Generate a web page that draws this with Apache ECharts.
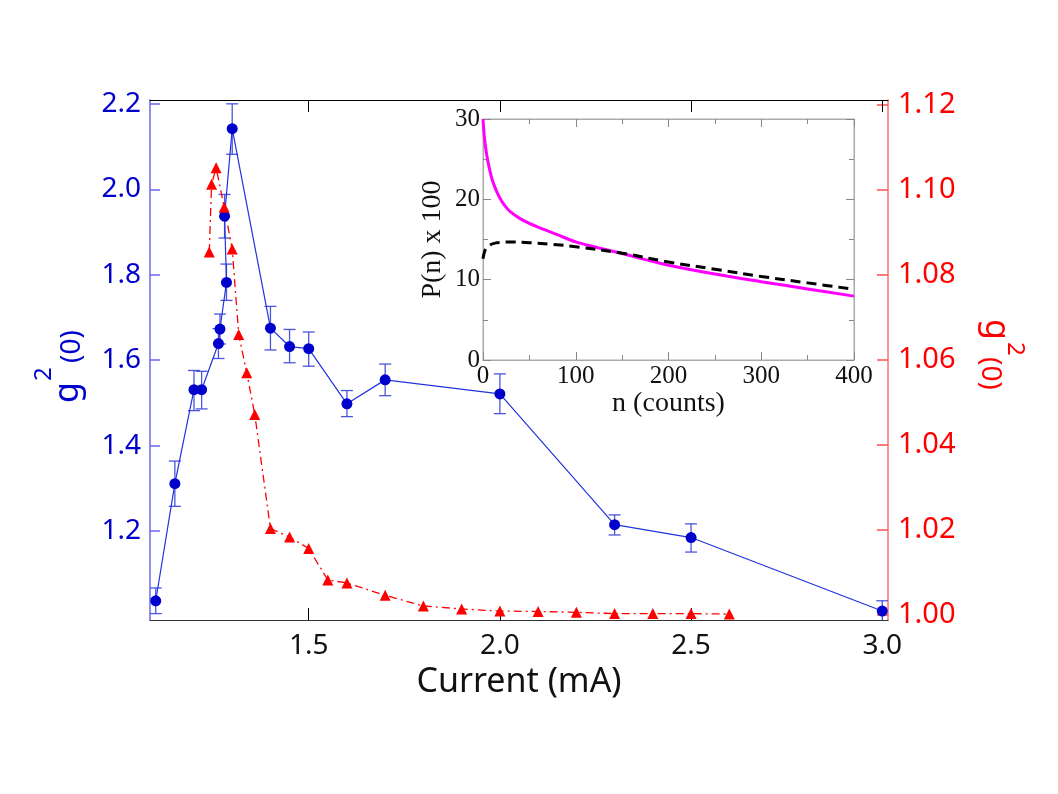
<!DOCTYPE html>
<html>
<head>
<meta charset="utf-8">
<script src="https://cdn.jsdelivr.net/npm/echarts@6/dist/echarts.min.js"></script>
<style>
html,body{margin:0;padding:0;background:#fff;}
#main{width:1058px;height:794px;}
</style>
</head>
<body>
<div id="main"></div>
<script>
// main plot, g2(0) vs current (blue, left axis)
var blueX = [1.10, 1.15, 1.20, 1.22, 1.264, 1.268, 1.285, 1.280, 1.30, 1.40, 1.45, 1.50, 1.60, 1.70, 2.00, 2.30, 2.50, 3.00];
var blueY = [1.037, 1.311, 1.531, 1.531, 1.639, 1.673, 1.782, 1.937, 2.142, 1.675, 1.632, 1.627, 1.498, 1.554, 1.521, 1.215, 1.185, 1.013];
var blueLow = [1.007, 1.258, 1.482, 1.486, 1.604, 1.638, 1.740, 1.886, 2.082, 1.624, 1.594, 1.586, 1.468, 1.517, 1.475, 1.191, 1.151, 0.990];
var blueHigh = [1.067, 1.364, 1.576, 1.574, 1.674, 1.708, 1.825, 1.988, 2.200, 1.726, 1.672, 1.666, 1.529, 1.591, 1.568, 1.238, 1.217, 1.037];

// red triangles, right axis
var redX = [1.24, 1.246, 1.258, 1.279, 1.30, 1.317, 1.338, 1.359, 1.40, 1.45, 1.50, 1.55, 1.60, 1.70, 1.80, 1.90, 2.00, 2.10, 2.20, 2.30, 2.40, 2.50, 2.60];
var redY = [1.0853, 1.1012, 1.1051, 1.0958, 1.0860, 1.0659, 1.0569, 1.0471, 1.0203, 1.0183, 1.0156, 1.0082, 1.0075, 1.0046, 1.0021, 1.0014, 1.0009, 1.0008, 1.0006, 1.0003, 1.0003, 1.0003, 1.0002];

// inset P(n)
var magentaN = [0, 1, 2, 3, 5, 7, 10, 15, 20, 25, 30, 40, 50, 60, 80, 100, 125, 150, 175, 200, 250, 300, 350, 400];
var magentaP = [30.0, 28.3, 27.2, 26.3, 24.9, 23.8, 22.4, 20.9, 19.8, 19.0, 18.4, 17.6, 17.0, 16.5, 15.6, 14.7, 13.95, 13.25, 12.5, 11.8, 10.7, 9.75, 8.85, 7.95];
var dashedN = [0, 1, 3, 8, 15, 20, 30, 50, 75, 100, 150, 200, 250, 300, 350, 400];
var dashedP = [12.6, 13.2, 13.8, 14.35, 14.6, 14.65, 14.7, 14.6, 14.4, 14.1, 13.3, 12.2, 11.3, 10.4, 9.6, 8.8];

var xTicks = [1.5, 2.0, 2.5, 3.0];
var leftTicks = [1.2, 1.4, 1.6, 1.8, 2.0, 2.2];
var rightTicks = [1.00, 1.02, 1.04, 1.06, 1.08, 1.10, 1.12];

var sans = 'Noto Sans';
var serif = 'Liberation Serif';
var blue = '#0000cc';
var red = '#ff0000';

var chart = echarts.init(document.getElementById('main'));

var option = {
  animation: false,
  backgroundColor: '#fff',
  grid: [
    {left: 150, top: 100, width: 738, height: 520},
    {left: 483, top: 119, width: 371, height: 241, show: true, borderColor: '#aaa', borderWidth: 1}
  ],
  xAxis: [
    {
      gridIndex: 0, type: 'value', min: 1.085, max: 3.015, position: 'bottom',
      axisLine: {show: true, onZero: false, lineStyle: {color: '#333', width: 1}},
      axisTick: {show: true, inside: true, length: 12, customValues: xTicks, lineStyle: {color: '#000'}},
      axisLabel: {customValues: xTicks, formatter: function (v) { return v.toFixed(1); },
        fontFamily: sans, fontSize: 28, color: '#111', margin: 12},
      splitLine: {show: false},
      name: 'Current (mA)', nameLocation: 'middle', nameGap: 38,
      nameTextStyle: {fontFamily: sans, fontSize: 34, color: '#111'}
    },
    {
      gridIndex: 0, type: 'value', min: 1.085, max: 3.015, position: 'top',
      axisLine: {show: true, onZero: false, lineStyle: {color: '#000', width: 1}},
      axisTick: {show: true, inside: true, length: 12, customValues: xTicks, lineStyle: {color: '#000'}},
      axisLabel: {show: false},
      splitLine: {show: false}
    },
    {
      gridIndex: 1, type: 'value', min: 0, max: 400, interval: 100, position: 'bottom',
      axisLine: {show: true, onZero: false, lineStyle: {color: '#aaa'}},
      axisTick: {show: true, inside: true, length: 8, lineStyle: {color: '#888'}},
      minorTick: {show: true, splitNumber: 2, length: 5, lineStyle: {color: '#888'}},
      axisLabel: {fontFamily: serif, fontSize: 25, color: '#111', margin: 4},
      splitLine: {show: false},
      name: 'n (counts)', nameLocation: 'middle', nameGap: 28,
      nameTextStyle: {fontFamily: serif, fontSize: 28, color: '#111'}
    },
    {
      gridIndex: 1, type: 'value', min: 0, max: 400, interval: 100, position: 'top',
      axisLine: {show: true, onZero: false, lineStyle: {color: '#aaa'}},
      axisTick: {show: true, inside: true, length: 8, lineStyle: {color: '#888'}},
      minorTick: {show: true, splitNumber: 2, length: 5, lineStyle: {color: '#888'}},
      axisLabel: {show: false},
      splitLine: {show: false}
    }
  ],
  yAxis: [
    {
      gridIndex: 0, type: 'value', min: 0.992, max: 2.209, position: 'left',
      axisLine: {show: true, onZero: false, lineStyle: {color: '#6a6aee', width: 1.5}},
      axisTick: {show: true, inside: true, length: 10, customValues: leftTicks, lineStyle: {color: '#6a6aee', width: 1.5}},
      axisLabel: {customValues: leftTicks, formatter: function (v) { return v.toFixed(1); },
        fontFamily: sans, fontSize: 28, color: blue, margin: 9},
      splitLine: {show: false}
    },
    {
      gridIndex: 0, type: 'value', min: 0.9988, max: 1.121, position: 'right',
      axisLine: {show: true, onZero: false, lineStyle: {color: '#ff7070', width: 1.5}},
      axisTick: {show: true, inside: true, length: 11, customValues: rightTicks, lineStyle: {color: '#ff5050', width: 1.5}},
      axisLabel: {customValues: rightTicks, formatter: function (v) { return v.toFixed(2); },
        fontFamily: sans, fontSize: 29, color: red, margin: 10},
      splitLine: {show: false}
    },
    {
      gridIndex: 1, type: 'value', min: 0, max: 30, interval: 10, position: 'left',
      axisLine: {show: true, onZero: false, lineStyle: {color: '#aaa'}},
      axisTick: {show: true, inside: true, length: 8, lineStyle: {color: '#888'}},
      minorTick: {show: true, splitNumber: 2, length: 5, lineStyle: {color: '#888'}},
      axisLabel: {fontFamily: serif, fontSize: 25, color: '#111', margin: 3},
      splitLine: {show: false},
      name: 'P(n) x 100', nameLocation: 'middle', nameGap: 36,
      nameTextStyle: {fontFamily: serif, fontSize: 28, color: '#111'}
    },
    {
      gridIndex: 1, type: 'value', min: 0, max: 30, interval: 10, position: 'right',
      axisLine: {show: true, onZero: false, lineStyle: {color: '#aaa'}},
      axisTick: {show: true, inside: true, length: 8, lineStyle: {color: '#888'}},
      minorTick: {show: true, splitNumber: 2, length: 5, lineStyle: {color: '#888'}},
      axisLabel: {show: false},
      splitLine: {show: false}
    }
  ],
  series: [
    {
      name: 'errors', type: 'custom', xAxisIndex: 0, yAxisIndex: 0, clip: true,
      data: blueX.map(function (x, i) { return [x, blueLow[i], blueHigh[i]]; }),
      encode: {x: 0, y: [1, 2]},
      renderItem: function (params, api) {
        var x = api.value(0);
        var lo = api.coord([x, api.value(1)]);
        var hi = api.coord([x, api.value(2)]);
        var w = 6;
        var st = {stroke: '#4a55dd', lineWidth: 1.3};
        return {
          type: 'group',
          children: [
            {type: 'line', shape: {x1: lo[0], y1: lo[1], x2: hi[0], y2: hi[1]}, style: st},
            {type: 'line', shape: {x1: hi[0] - w, y1: hi[1], x2: hi[0] + w, y2: hi[1]}, style: st},
            {type: 'line', shape: {x1: lo[0] - w, y1: lo[1], x2: lo[0] + w, y2: lo[1]}, style: st}
          ]
        };
      }
    },
    {
      name: 'g2 blue', type: 'line', xAxisIndex: 0, yAxisIndex: 0,
      data: blueX.map(function (x, i) { return [x, blueY[i]]; }),
      symbol: 'circle', symbolSize: 11,
      itemStyle: {color: blue},
      lineStyle: {color: '#2233dd', width: 1.2}
    },
    {
      name: 'g2 red', type: 'line', xAxisIndex: 0, yAxisIndex: 1,
      data: redX.map(function (x, i) { return [x, redY[i]]; }),
      symbol: 'triangle', symbolSize: 11,
      itemStyle: {color: red},
      lineStyle: {color: red, width: 1.3, type: [8, 4, 2, 4]}
    },
    {
      name: 'magenta', type: 'line', xAxisIndex: 2, yAxisIndex: 2,
      data: magentaN.map(function (n, i) { return [n, magentaP[i]]; }),
      showSymbol: false, symbol: 'none', smooth: 0.35,
      lineStyle: {color: '#ff00ff', width: 3}
    },
    {
      name: 'dashed', type: 'line', xAxisIndex: 2, yAxisIndex: 2,
      data: dashedN.map(function (n, i) { return [n, dashedP[i]]; }),
      showSymbol: false, symbol: 'none', smooth: 0.35,
      lineStyle: {color: '#000', width: 3, type: [10, 6]}
    }
  ],
  graphic: [
    // left axis title g^2(0), reads bottom to top
    {type: 'text', x: 68, y: 403, rotation: Math.PI / 2,
      style: {text: 'g', fontFamily: sans, fontSize: 34, fill: blue, align: 'left', verticalAlign: 'middle'}},
    {type: 'text', x: 44, y: 381, rotation: Math.PI / 2,
      style: {text: '2', fontFamily: sans, fontSize: 24, fill: blue, align: 'left', verticalAlign: 'middle'}},
    {type: 'text', x: 72, y: 363, rotation: Math.PI / 2,
      style: {text: '(0)', fontFamily: sans, fontSize: 28, fill: blue, align: 'left', verticalAlign: 'middle'}},
    // right axis title, reads top to bottom
    {type: 'text', x: 996, y: 319, rotation: -Math.PI / 2,
      style: {text: 'g', fontFamily: sans, fontSize: 34, fill: red, align: 'left', verticalAlign: 'middle'}},
    {type: 'text', x: 1015, y: 342, rotation: -Math.PI / 2,
      style: {text: '2', fontFamily: sans, fontSize: 24, fill: red, align: 'left', verticalAlign: 'middle'}},
    {type: 'text', x: 990, y: 357, rotation: -Math.PI / 2,
      style: {text: '(0)', fontFamily: sans, fontSize: 28, fill: red, align: 'left', verticalAlign: 'middle'}}
  ]
};

chart.setOption(option);
</script>
</body>
</html>
